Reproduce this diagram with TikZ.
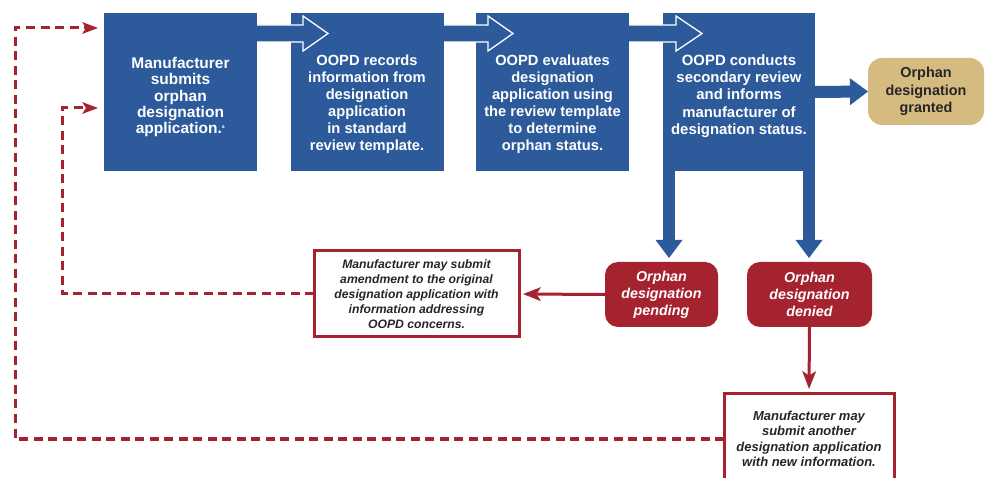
\documentclass[tikz,border=0pt]{standalone}
\usepackage{fontspec}
\setmainfont{Liberation Sans}
\usetikzlibrary{arrows.meta,calc}
\definecolor{oblue}{RGB}{45,90,155}
\definecolor{ored}{RGB}{165,35,47}
\definecolor{otan}{RGB}{213,187,128}
\definecolor{otext}{RGB}{38,38,38}
\begin{document}
\begin{tikzpicture}[x=1pt,y=-1pt,
  bluebox/.style={fill=oblue, draw=none, minimum width=153pt, minimum height=158pt, inner sep=0pt, outer sep=0pt, anchor=north west},
  bluetext/.style={text=white, font=\bfseries\fontsize{14.7}{17}\selectfont, align=center, inner sep=0pt},
  redbox/.style={fill=ored, draw=none, rounded corners=13pt, text=white, font=\bfseries\itshape\fontsize{14.3}{17}\selectfont, align=center, minimum height=65pt, inner sep=0pt, outer sep=0pt},
  tanbox/.style={fill=otan, draw=none, rounded corners=14pt, text=otext, font=\bfseries\fontsize{14.4}{17.5}\selectfont, align=center, minimum width=116pt, minimum height=67pt, inner sep=0pt, outer sep=0pt},
  notebox/.style={draw=ored, fill=white, line width=3pt, text=otext, align=center, inner sep=0pt, outer sep=0pt},
  hollowarrow/.style={fill=oblue, draw=white, line width=1.3pt, line join=miter},
  bluearrow/.style={draw=oblue, line width=12pt, -{Triangle[length=18pt 0 0, width=27pt 0 0, line width=0pt 0]}},
  redarrow/.style={draw=ored, line width=3pt, -{Stealth[length=18pt 0 0, width=14pt 0 0, inset=4.5pt, line width=0pt 0]}},
  dasharrow/.style={draw=ored, line width=3pt, dash pattern=on 9pt off 5.5pt, -{Stealth[length=16pt 0 0, width=12pt 0 0, inset=4pt, line width=0pt 0]}}
]
\path[use as bounding box] (0,0) rectangle (986,478);
\clip (0,0) rectangle (986,478);

% blue process boxes
\node[bluebox] (b1) at (104,13) {};
\node[bluebox] (b2) at (291,13) {};
\node[bluebox] (b3) at (476,13) {};
\node[bluebox, minimum width=152pt] (b4) at (663,13) {};

\node[bluetext, font=\bfseries\fontsize{15.5}{16.3}\selectfont] (t1) at (180.5,97) {Manufacturer\\submits\\orphan\\designation\\application.\textsuperscript{\tiny a}};
\node[bluetext] (t2) at (367,104) {OOPD records\\information from\\designation\\application\\in standard\\review template.};
\node[bluetext] (t3) at (552.5,104) {OOPD evaluates\\designation\\application using\\the review template\\to determine\\orphan status.};
\node[bluetext, font=\bfseries\fontsize{14.9}{17.3}\selectfont] (t4) at (739,96) {OOPD conducts\\secondary review\\and informs\\manufacturer of\\designation status.};

% outcomes
\node[tanbox] (granted) at (926,91.5) {Orphan\\designation\\granted};
\node[redbox, minimum width=113pt] (pending) at (661.5,294.5) {Orphan\\designation\\pending};
\node[redbox, minimum width=125pt] (denied) at (809.5,294.5) {Orphan\\designation\\denied};

% notes
\node[notebox, minimum width=205pt, minimum height=86pt, font=\bfseries\itshape\fontsize{12.2}{15}\selectfont] (amend) at (416.5,294) {Manufacturer may submit\\amendment to the original\\designation application with\\information addressing\\OOPD concerns.};
\node[notebox, minimum width=170pt, minimum height=90pt, font=\bfseries\itshape\fontsize{13}{15.3}\selectfont] (another) at (809,439) {Manufacturer may\\submit another\\designation application\\with new information.};

% hollow arrows between blue boxes
\filldraw[hollowarrow] ($(b1.north east)+(0,12)$) -- ($(b2.north west)+(12,12)$) -- ++(0,-9) -- ++(25,17.5) -- ++(-25,17.5) -- ++(0,-9) -- ($(b1.north east)+(0,29)$);
\filldraw[hollowarrow] ($(b2.north east)+(0,12)$) -- ($(b3.north west)+(12,12)$) -- ++(0,-9) -- ++(25,17.5) -- ++(-25,17.5) -- ++(0,-9) -- ($(b2.north east)+(0,29)$);
\filldraw[hollowarrow] ($(b3.north east)+(0,12)$) -- ($(b4.north west)+(13,12)$) -- ++(0,-9) -- ++(26,17.5) -- ++(-26,17.5) -- ++(0,-9) -- ($(b3.north east)+(0,29)$);

% blue arrows from box 4
\draw[bluearrow] (b4.east) -- (granted.west);
\coordinate (legL) at ($(b4.south west)+(6,0)$);
\coordinate (legR) at ($(b4.south east)+(-6,0)$);
\draw[bluearrow, shorten >=4pt] (legL) -- (legL |- pending.north);
\draw[bluearrow, shorten >=4pt] (legR) -- (legR |- denied.north);

% red solid arrows
\draw[redarrow, shorten >=4pt] (pending.west) -- (amend.east);
\draw[redarrow, shorten >=5pt] (denied.south) -- (another.north);

% dashed return loops
\coordinate (outer) at (15,28);
\coordinate (inner) at (62,108);
\draw[dasharrow, shorten >=6pt] (another.west) -| (outer) -- (outer -| b1.west);
\draw[dasharrow, shorten >=6pt] (amend.west) -| (inner) -- (inner -| b1.west);
\end{tikzpicture}
\end{document}
